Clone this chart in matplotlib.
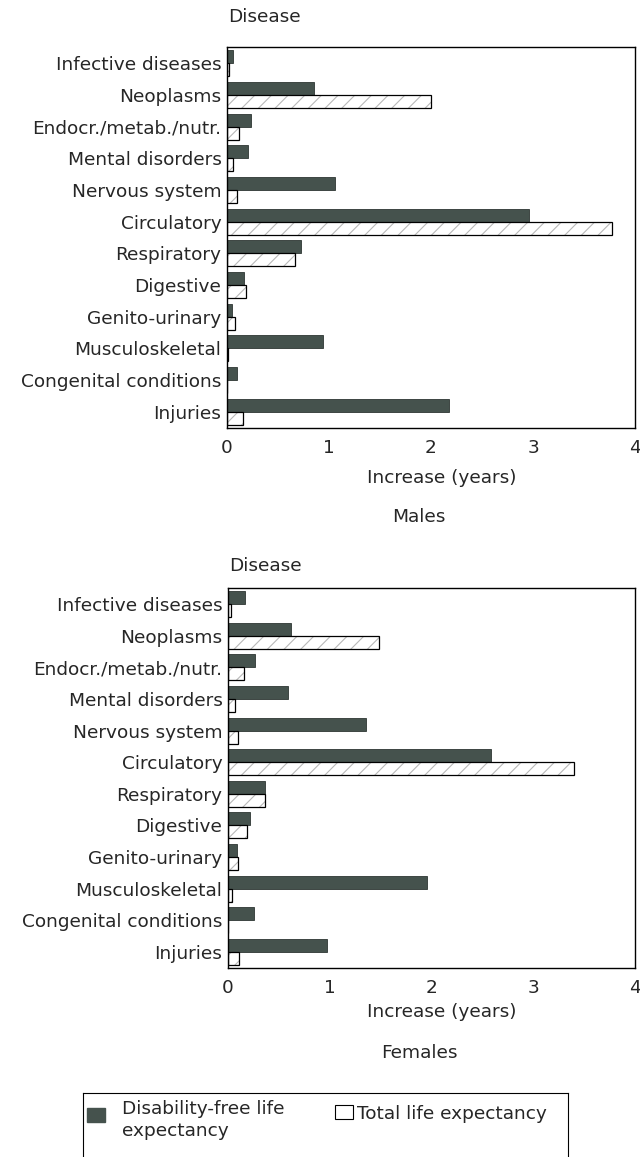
import numpy as np
import matplotlib
matplotlib.use("Agg")
import matplotlib.pyplot as plt
from matplotlib.patches import Rectangle

plt.rcParams['font.family'] = ['DejaVu Sans']
plt.rcParams['hatch.linewidth'] = 0.8

diseases = ['Infective diseases', 'Neoplasms', 'Endocr./metab./nutr.',
            'Mental disorders', 'Nervous system', 'Circulatory', 'Respiratory',
            'Digestive', 'Genito-urinary', 'Musculoskeletal',
            'Congenital conditions', 'Injuries']

# increase in years if the disease were eliminated
males_dfle = [0.06, 0.85, 0.24, 0.21, 1.06, 2.96, 0.73, 0.17, 0.05, 0.94, 0.10, 2.18]
males_tle = [0.02, 2.00, 0.12, 0.06, 0.10, 3.77, 0.67, 0.19, 0.08, 0.01, 0.00, 0.16]
females_dfle = [0.17, 0.62, 0.27, 0.59, 1.36, 2.58, 0.36, 0.22, 0.09, 1.96, 0.26, 0.97]
females_tle = [0.03, 1.48, 0.16, 0.07, 0.10, 3.40, 0.36, 0.19, 0.10, 0.04, 0.00, 0.11]

xticks = [0, 1, 2, 3, 4]
dark = '#45524d'
hatch_grey = '#b8b8b8'
txt = '#262626'
fs = 13.3

fig = plt.figure(figsize=(6.4, 11.57), dpi=100)

def panel(rect, dfle, tle, sex, ylab_y, xlab_y, sex_y):
    ax = fig.add_axes(rect)
    y = np.arange(len(diseases))
    h = 0.41
    ax.barh(y - h / 2, dfle, height=h, color=dark, edgecolor='#2e3633', linewidth=0.6)
    # hatch first in light grey, then the black outline on top
    ax.barh(y + h / 2, tle, height=h, color='white', edgecolor=hatch_grey,
            linewidth=0, hatch='//')
    ax.barh(y + h / 2, tle, height=h, fill=False, edgecolor='black', linewidth=0.9)
    ax.set_yticks(y)
    ax.set_yticklabels(diseases, fontsize=fs, color=txt)
    ax.set_ylim(len(diseases) - 0.49, -0.51)
    ax.set_xlim(0, 4)
    ax.set_xticks(xticks)
    ax.set_xticklabels([str(t) for t in xticks], fontsize=fs, color=txt)
    ax.tick_params(length=0, pad=4)
    ax.tick_params(axis='x', pad=8)
    for s in ax.spines.values():
        s.set_linewidth(1.0)
    fig.text(rect[0] + 0.002, ylab_y, 'Disease', fontsize=fs, ha='left', va='center', color=txt)
    fig.text(0.69, xlab_y, 'Increase (years)', fontsize=fs, ha='center', va='center', color=txt)
    fig.text(0.655, sex_y, sex, fontsize=fs, ha='center', va='center', color=txt)
    return ax

panel([0.3547, 0.6301, 0.6375, 0.3293], males_dfle, males_tle, 'Males',
      1 - 17 / 1157, 1 - 478 / 1157, 1 - 517 / 1157)
panel([0.3562, 0.1634, 0.6360, 0.3284], females_dfle, females_tle, 'Females',
      1 - 566 / 1157, 1 - 1012 / 1157, 1 - 1053 / 1157)

# legend box, cut off at the bottom like the scan
leg = fig.add_axes([83 / 640, -0.02, (568 - 83) / 640, 1 - 1093 / 1157 + 0.02])
leg.set_xlim(0, 485)
leg.set_ylim(87, 0)
leg.set_xticks([])
leg.set_yticks([])
leg.add_patch(Rectangle((4, 15), 18, 14, facecolor=dark, edgecolor=dark))
leg.text(39, 27, 'Disability-free life\nexpectancy', fontsize=fs, ha='left', va='center',
         linespacing=1.25, color=txt)
leg.add_patch(Rectangle((252, 12), 18, 14, facecolor='white', edgecolor='black',
                        linewidth=0.8))
leg.text(274, 21, 'Total life expectancy', fontsize=fs, ha='left', va='center', color=txt)

fig.savefig('out.png', dpi=100)
